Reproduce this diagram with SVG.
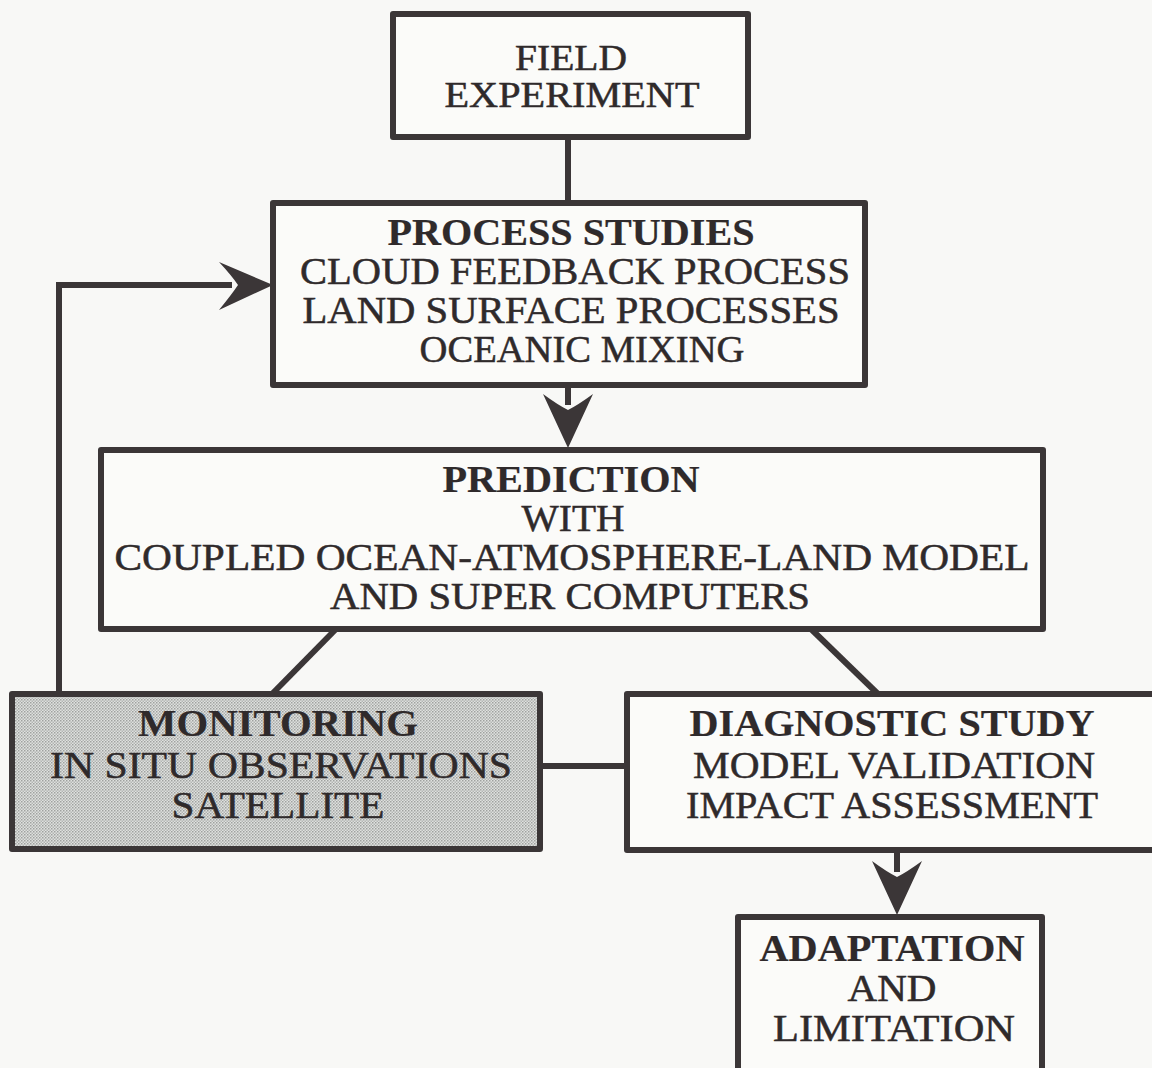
<svg xmlns="http://www.w3.org/2000/svg" width="1152" height="1068" viewBox="0 0 1152 1068">
<defs>
<pattern id="dots" width="3" height="3" patternUnits="userSpaceOnUse">
<rect width="3" height="3" fill="#dfe1df"/>
<rect x="0" y="0" width="1.5" height="1.5" fill="#9fa19f"/>
<rect x="1.5" y="1.5" width="1.5" height="1.5" fill="#b3b5b3"/>
</pattern>
<style>
.box{fill:#fbfbf9;stroke:#3b3637;stroke-width:6;stroke-linejoin:round}
.shade{fill:url(#dots);stroke:#3b3637;stroke-width:6;stroke-linejoin:round}
.ln{fill:none;stroke:#3b3637;stroke-width:6;stroke-linejoin:miter}
.head{fill:#3b3637;stroke:none}
text{font-family:"Liberation Serif","Times New Roman",serif;font-size:38px;fill:#2f2a2b;stroke:#2f2a2b;stroke-width:0.5;text-anchor:middle}
.b{font-weight:bold;stroke-width:0.2}
.s{font-size:36px}
</style>
</defs>
<rect width="1152" height="1068" fill="#f8f8f6"/>
<g id="connectors">
<line class="ln" x1="568" y1="137" x2="568" y2="203"/>
<polyline class="ln" points="59,693 59,285 232,285"/>
<path class="head" d="M273,285 L219,262 Q232,276 238,285 Q232,294 219,310 Z"/>
<line class="ln" x1="568" y1="385" x2="568" y2="405"/>
<path class="head" d="M568,448 L543,394 Q558,405 568,410 Q578,405 593,394 Z"/>
<line class="ln" x1="337" y1="628" x2="272" y2="694"/>
<line class="ln" x1="810" y1="628" x2="878" y2="694"/>
<line class="ln" x1="540" y1="766" x2="627" y2="766"/>
<line class="ln" x1="897" y1="850" x2="897" y2="872"/>
<path class="head" d="M897,915 L872,861 Q887,872 897,877 Q907,872 922,861 Z"/>
</g>
<g id="field">
<rect class="box" x="393" y="14" width="355" height="123"/>
<text class="s" x="571" y="70" textLength="112" lengthAdjust="spacingAndGlyphs">FIELD</text>
<text class="s" x="572" y="107" textLength="255" lengthAdjust="spacingAndGlyphs">EXPERIMENT</text>
</g>
<g id="process">
<rect class="box" x="273" y="203" width="592" height="182"/>
<text class="b" x="571" y="245" textLength="367" lengthAdjust="spacingAndGlyphs">PROCESS STUDIES</text>
<text x="575" y="284" textLength="550" lengthAdjust="spacingAndGlyphs">CLOUD FEEDBACK PROCESS</text>
<text x="571" y="323" textLength="537" lengthAdjust="spacingAndGlyphs">LAND SURFACE PROCESSES</text>
<text x="582" y="362" textLength="325" lengthAdjust="spacingAndGlyphs">OCEANIC MIXING</text>
</g>
<g id="prediction">
<rect class="box" x="101" y="450" width="942" height="179"/>
<text class="b" x="571" y="492" textLength="257" lengthAdjust="spacingAndGlyphs">PREDICTION</text>
<text x="573" y="531" textLength="103" lengthAdjust="spacingAndGlyphs">WITH</text>
<text x="572" y="570" textLength="915" lengthAdjust="spacingAndGlyphs">COUPLED OCEAN-ATMOSPHERE-LAND MODEL</text>
<text x="570" y="609" textLength="480" lengthAdjust="spacingAndGlyphs">AND SUPER COMPUTERS</text>
</g>
<g id="monitoring">
<rect class="shade" x="12" y="694" width="528" height="155"/>
<text class="b" x="278" y="736" textLength="280" lengthAdjust="spacingAndGlyphs">MONITORING</text>
<text x="281" y="778" textLength="462" lengthAdjust="spacingAndGlyphs">IN SITU OBSERVATIONS</text>
<text x="278" y="818" textLength="213" lengthAdjust="spacingAndGlyphs">SATELLITE</text>
</g>
<g id="diagnostic">
<rect class="box" x="627" y="694" width="532" height="156"/>
<text class="b" x="892" y="736" textLength="405" lengthAdjust="spacingAndGlyphs">DIAGNOSTIC STUDY</text>
<text x="894" y="778" textLength="402" lengthAdjust="spacingAndGlyphs">MODEL VALIDATION</text>
<text x="892" y="818" textLength="412" lengthAdjust="spacingAndGlyphs">IMPACT ASSESSMENT</text>
</g>
<g id="adaptation">
<rect class="box" x="738" y="917" width="304" height="160"/>
<text class="b" x="892" y="961" textLength="265" lengthAdjust="spacingAndGlyphs">ADAPTATION</text>
<text x="892" y="1001" textLength="89" lengthAdjust="spacingAndGlyphs">AND</text>
<text x="894" y="1041" textLength="242" lengthAdjust="spacingAndGlyphs">LIMITATION</text>
</g>
</svg>
